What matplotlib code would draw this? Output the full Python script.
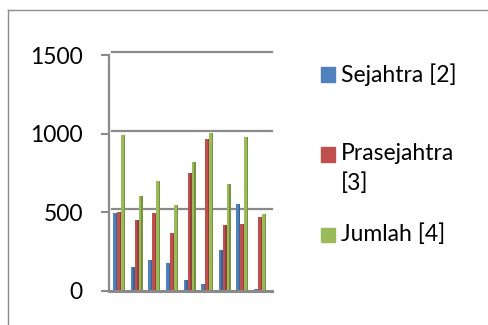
import matplotlib
matplotlib.use("Agg")
import matplotlib.pyplot as plt
import matplotlib.transforms as mtransforms
from matplotlib.lines import Line2D
from matplotlib.patches import Rectangle
import numpy as np

plt.rcParams['font.family'] = ['Lato', 'DejaVu Sans']

# values per group (9 groups, no category labels shown)
sejahtra = [494, 152, 196, 177, 67, 42, 257, 553, 8]
prasejahtra = [498, 447, 496, 367, 747, 966, 418, 424, 470]
jumlah = [989, 605, 698, 546, 816, 1006, 679, 975, 485]
series_names = ['Sejahtra [2]', 'Prasejahtra\n[3]', 'Jumlah [4]']
yticks = [0, 500, 1000, 1500]

front = ['#4F81BD', '#C0504D', '#9BBB59']
side = ['#3A6190', '#93403D', '#76913F']
grey = '#8A8A8A'
fs = 16.5

fig = plt.figure(figsize=(4.88, 3.25), dpi=100)
W, H = 488, 325
ax = fig.add_axes([109 / W, (H - 290.7) / H, 163 / W, (290.7 - 55) / H])

x = np.arange(len(sejahtra))
w = 0.227
for k, vals in enumerate([sejahtra, prasejahtra, jumlah]):
    xs = x + (k - 1) * w
    ax.bar(xs, vals, width=w, color=front[k], linewidth=0, zorder=3)
    # darker right face of each column
    ax.bar(xs + w * 0.32, vals, width=w * 0.36, color=side[k], linewidth=0, zorder=4)

ax.set_xlim(-0.585, 8.68)
ax.set_ylim(0, 1500)
ax.set_xticks([])
ax.set_yticks(yticks)
ax.tick_params(axis='y', length=5.8, width=1.5, color=grey, pad=13, labelsize=fs)

for s in ['top', 'right']:
    ax.spines[s].set_visible(False)
ax.spines['left'].set_color(grey)
ax.spines['left'].set_linewidth(1.6)
ax.spines['bottom'].set_color(grey)
ax.spines['bottom'].set_linewidth(2.2)
ax.spines['bottom'].set_zorder(5)

# gridlines sit on the back wall, shifted up a few pixels
wall = mtransforms.blended_transform_factory(ax.transAxes, ax.transData)
shift = wall + mtransforms.ScaledTranslation(0, 3 / 100, fig.dpi_scale_trans)
for yv in yticks[1:]:
    ax.plot([3 / 163, 1], [yv, yv], color=grey, lw=1.6, transform=shift,
            clip_on=False, zorder=1)

# legend drawn by hand so the wrapped label keeps its spacing
legend_y = [74.5, 154.5, 234.5]
for k, name in enumerate(series_names):
    yc = legend_y[k]
    fig.add_artist(Rectangle((321 / W, (H - yc - 7) / H), 14 / W, 14 / H,
                             transform=fig.transFigure, color=front[k]))
    if '\n' in name:
        fig.text(341 / W, (H - yc + 11) / H, name, fontsize=fs, ha='left',
                 va='top', linespacing=1.42)
    else:
        fig.text(341 / W, (H - yc) / H, name, fontsize=fs, ha='left',
                 va='center')

# outer chart frame
fig.add_artist(Line2D([8 / W, 8 / W], [0, (H - 10) / H], color='#8C8C8C', lw=1))
fig.add_artist(Line2D([8 / W, 1], [(H - 10) / H, (H - 10) / H], color='#8C8C8C', lw=1))

fig.savefig('out.png', dpi=100)
